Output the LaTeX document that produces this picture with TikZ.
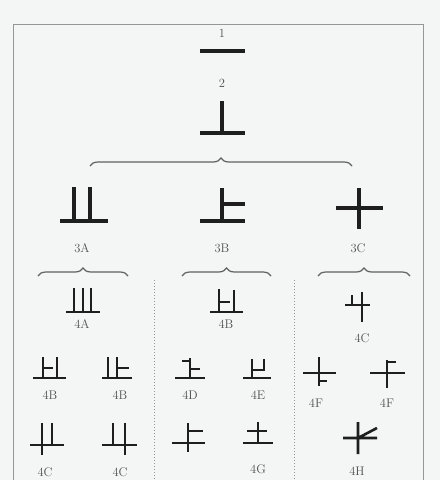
\documentclass[tikz,border=0pt]{standalone}
\usetikzlibrary{decorations.pathreplacing}
\definecolor{paper}{RGB}{244,245,245}
\definecolor{ink}{RGB}{30,30,30}
\definecolor{lblgray}{RGB}{80,80,80}
\definecolor{rulegray}{RGB}{150,150,150}
\tikzset{stk/.style={line width=3.3pt, draw=ink},
         stks/.style={line width=2.6pt, draw=ink},
         lbl/.style={text=lblgray, font=\fontsize{12.5}{14}\selectfont, inner sep=0pt},
         brc/.style={decorate, decoration={brace, amplitude=8pt}, line width=1.2pt, draw=ink!70},
         sep/.style={dotted, line width=1pt, draw=rulegray}}

\begin{document}
\begin{tikzpicture}[x=1pt, y=-1pt]

  % ---------- page and frame ----------
  \fill[paper] (0,0) rectangle (440,480);
  \useasboundingbox (0,0) rectangle (440,480);
  \clip (0,0) rectangle (440,480);
  \draw[rulegray, line width=0.7pt] (13,24) rectangle (423,490);

  % ---------- stages 1 and 2 ----------
  \node[lbl] (l1) at (222,33){1};
  \draw[stk] (200,51) -- (245,51);
  \node[lbl] (l2) at (222,83){2};
  \draw[stk] (222,101) -- (222,133) (200,133) -- (245,133);

  \draw[brc] (90,166) -- (352,166);

  % ---------- stage 3 ----------
  \draw[stk] (74,187) -- (74,221) (90,187) -- (90,221) (60,221) -- (108,221);
  \node[lbl] (l3a) at (82,248){3A};
  \draw[stk] (222,188) -- (222,221) (222,204) -- (245,204) (200,221) -- (245,221);
  \node[lbl] (l3b) at (222,248){3B};
  \draw[stk] (336,208) -- (383,208) (359,188) -- (359,229);
  \node[lbl] (l3c) at (358,248){3C};

  \draw[brc] (38,276) -- (128,276);
  \draw[brc] (182,276) -- (271,276);
  \draw[brc] (318,276) -- (410,276);
  \draw[sep] (154,280) -- (154,480) (294,280) -- (294,480);

  % ---------- stage 4, first row ----------
  \draw[stks] (74,288) -- (74,312) (83,288) -- (83,312) (91,288) -- (91,312) (66,312) -- (100,312);
  \node[lbl] (l4a) at (82,324){4A};
  \draw[stks] (219,289) -- (219,312) (234,290) -- (234,312) (219,302) -- (230,302) (210,312) -- (243,312);
  \node[lbl] (l4b) at (226,324){4B};
  \draw[stks] (345,305) -- (370,305) (362,292) -- (362,322) (352,295) -- (352,305);
  \node[lbl] (l4c) at (362,338){4C};

  % ---------- stage 4, second row ----------
  \draw[stks] (43,357) -- (43,378) (57,357) -- (57,378) (43,368) -- (53,368) (33,378) -- (66,378);
  \node[lbl] (l4b1) at (50,395){4B};
  \draw[stks] (108,357) -- (108,378) (117,357) -- (117,378) (117,368) -- (129,368) (102,378) -- (132,378);
  \node[lbl] (l4b2) at (120,395){4B};
  \draw[stks] (190,358) -- (190,378) (182,361) -- (190,361) (190,369) -- (200,369) (175,378) -- (205,378);
  \node[lbl] (l4d) at (190,395){4D};
  \draw[stks] (252,359) -- (252,378) (264,359) -- (264,370) (252,370) -- (265,370) (243,378) -- (271,378);
  \node[lbl] (l4e) at (258,395){4E};
  \draw[stks] (303,373) -- (336,373) (319,357) -- (319,386) (319,381) -- (327,381);
  \node[lbl] (l4f1) at (316,403){4F};
  \draw[stks] (370,373) -- (405,373) (387,360) -- (387,388) (387,362) -- (396,362);
  \node[lbl] (l4f2) at (387,403){4F};

  % ---------- stage 4, third row ----------
  \draw[stks] (30,445) -- (64,445) (42,423) -- (42,455) (52,423) -- (52,445);
  \node[lbl] (l4c1) at (45,472){4C};
  \draw[stks] (102,445) -- (137,445) (113,423) -- (113,445) (125,423) -- (125,455);
  \node[lbl] (l4c2) at (120,472){4C};
  \draw[stks] (172,443) -- (205,443) (188,423) -- (188,452) (188,431) -- (203,431);
  \draw[stks] (243,443) -- (273,443) (258,422) -- (258,443) (247,431) -- (267,431);
  \node[lbl] (l4g) at (258,469){4G};
  \draw[stks] (343,438) -- (377,438) (358,422) -- (358,454) (358,438) -- (377,428);
  \node[lbl] (l4h) at (357,471){4H};

\end{tikzpicture}
\end{document}
